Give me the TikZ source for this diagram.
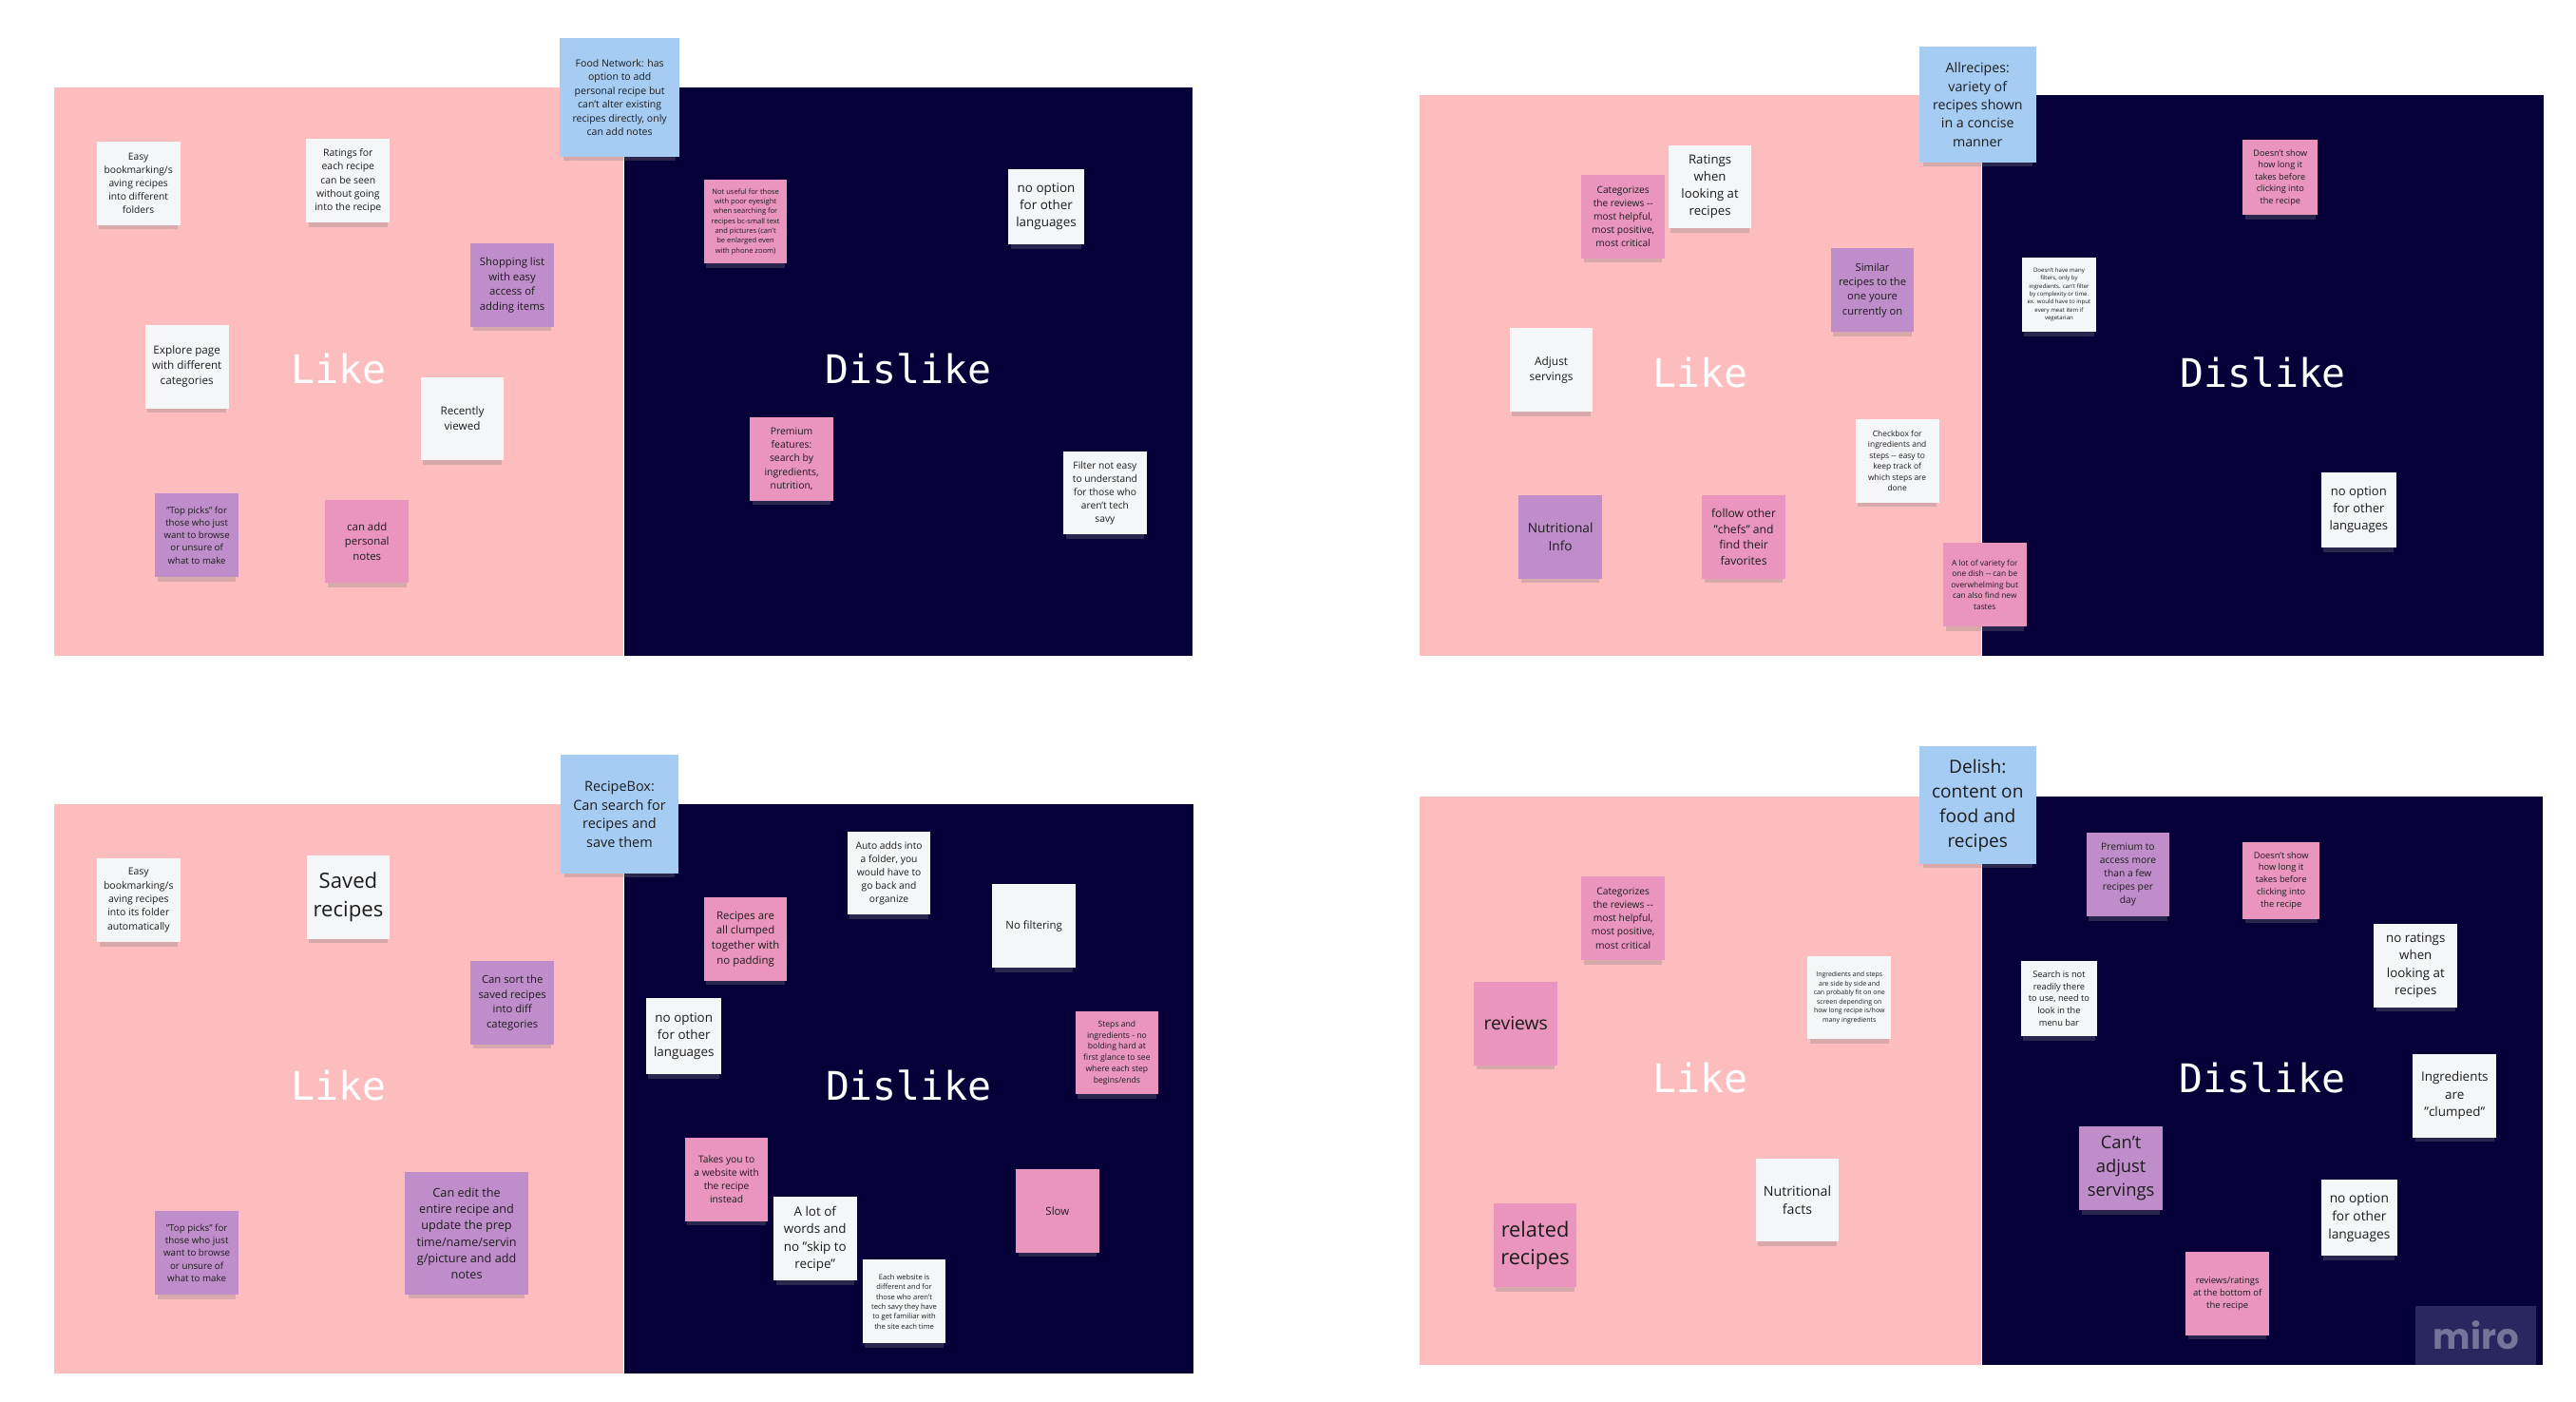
\documentclass[tikz,border=0pt]{standalone}
\usepackage{fontspec}
\setmainfont{Open Sans}
\newfontfamily\boardfont{DejaVu Sans Mono}
\newfontfamily\mirofont{Poppins}
\usepackage{tikz}
\usetikzlibrary{positioning,shadows}

\definecolor{likebg}{HTML}{FDBCBE}
\definecolor{dislikebg}{HTML}{050038}
\definecolor{notewhite}{HTML}{F5F6F8}
\definecolor{notepink}{HTML}{E995BE}
\definecolor{notepurple}{HTML}{C08DCB}
\definecolor{noteblue}{HTML}{A6CCF4}
\definecolor{notetext}{HTML}{1C1C1C}
\definecolor{mirobg}{HTML}{2A2760}
\definecolor{mirotext}{HTML}{77749A}

\newcommand{\dpx}{0.017378cm}
\newcommand{\fsz}[1]{\fontsize{#1}{\fpeval{1.37*#1}}\selectfont}

\tikzset{
  wh/.style 2 args={minimum width=#1*\dpx, minimum height=#2*\dpx},
  sz/.style={wh={#1}{#1}},
  fs/.style={font=\fsz{#1}},
  side/.style={inner sep=0pt, text=white, text depth=2pt, font=\boardfont\fontsize{11.8}{14}\selectfont},
  likeside/.style={side, fill=likebg},
  dislikeside/.style={side, fill=dislikebg},
  note/.style={inner sep=0pt, align=center, text=notetext, sz=50.5,
    drop shadow={shadow xshift=0pt, shadow yshift=-2.2pt, shadow scale=.94, opacity=.3}},
  whitenote/.style={note, fill=notewhite},
  pinknote/.style={note, fill=notepink},
  purplenote/.style={note, fill=notepurple},
  sitenote/.style={note, fill=noteblue, sz=71.5},
  mirobox/.style={inner sep=0pt, fill=mirobg, text=mirotext, wh={72.9}{35.4},
    font=\mirofont\bfseries\fontsize{10.6}{12}\selectfont}
}

\begin{document}
\begin{tikzpicture}[x=0.017378cm,y=-0.017378cm]

  \fill[white] (0,0) rectangle (1560.1,848.8);
  \useasboundingbox (0,0) rectangle (1560.1,848.8);

  % Boards

  \node[likeside,wh={344.6}{344.1},anchor=north west] (fn_like) at (32.3,52.6) {Like};
  \node[dislikeside,wh={344.2}{344.1},right=0pt of fn_like] (fn_dis) {Dislike};

  \node[likeside,wh={340}{339.7},anchor=north west] (ar_like) at (859.3,57) {Like};
  \node[dislikeside,wh={340}{339.7},right=0pt of ar_like] (ar_dis) {Dislike};

  \node[likeside,wh={344.8}{344.8},anchor=north west] (rb_like) at (32.2,486.4) {Like};
  \node[dislikeside,wh={344.3}{344.8},right=0pt of rb_like] (rb_dis) {Dislike};

  \node[likeside,wh={340}{344.6},anchor=north west] (de_like) at (859.3,481.6) {Like};
  \node[dislikeside,wh={339.5}{344.6},right=0pt of de_like] (de_dis) {Dislike};

  % Food Network

  \node[whitenote,fs=2.92] (fn_easy) at (83.8,111) {Easy\\bookmarking/s\\aving recipes\\into different\\folders};
  \node[whitenote,fs=2.96] (fn_rate) at (210.8,109.5) {Ratings for\\each recipe\\can be seen\\without going\\into the recipe};
  \node[purplenote,fs=3.23] (fn_shop) at (310.2,172.6) {Shopping list\\with easy\\access of\\adding items};
  \node[whitenote,fs=3.32] (fn_explore) at (113.2,222) {Explore page\\with different\\categories};
  \node[whitenote,fs=3.32] (fn_recent) at (280,253.5) {Recently\\viewed};
  \node[purplenote,fs=2.74] (fn_top) at (119.2,324) {"Top picks" for\\those who just\\want to browse\\or unsure of\\what to make};
  \node[pinknote,fs=3.25] (fn_notes) at (222.3,327.7) {can add\\personal\\notes};

  \node[pinknote,fs=2.15] (fn_eyes) at (451.5,134.2) {Not useful for those\\with poor eyesight\\when searching for\\recipes bc-small text\\and pictures (can't\\be enlarged even\\with phone zoom)};
  \node[whitenote,sz=45.7,fs=3.82] (fn_lang) at (633.6,125) {no option\\for other\\languages};
  \node[pinknote,fs=2.96] (fn_premium) at (479.4,277.8) {Premium\\features:\\search by\\ingredients,\\nutrition,};
  \node[whitenote,fs=2.91] (fn_filter) at (669.2,298.4) {Filter not easy\\to understand\\for those who\\aren't tech\\savy};

  \node[sitenote,wh={72.2}{72},fs=2.99] (fn_site) at (375.3,59) {Food Network: has\\option to add\\personal recipe but\\can't alter existing\\recipes directly, only\\can add notes};

  % Allrecipes

  \node[pinknote,fs=2.9] (ar_cat) at (983,131) {Categorizes\\the reviews -{}-\\most helpful,\\most positive,\\most critical};
  \node[whitenote,fs=3.75] (ar_rate) at (1035.6,113) {Ratings\\when\\looking at\\recipes};
  \node[purplenote,fs=3.19] (ar_similar) at (1134,175.6) {Similar\\recipes to the\\one youre\\currently on};
  \node[whitenote,fs=3.39] (ar_adjust) at (939.5,224) {Adjust\\servings};
  \node[whitenote,fs=2.4] (ar_check) at (1149,279) {Checkbox for\\ingredients and\\steps -{}- easy to\\keep track of\\which steps are\\done};
  \node[purplenote,fs=3.9] (ar_nutri) at (945,325) {Nutritional\\Info};
  \node[pinknote,fs=3.44] (ar_chefs) at (1056,325) {follow other\\"chefs" and\\find their\\favorites};
  \node[pinknote,fs=2.38] (ar_variety) at (1202,354) {A lot of variety for\\one dish -{}- can be\\overwhelming but\\can also find new\\tastes};

  \node[pinknote,sz=45.3,fs=2.6] (ar_time) at (1381,107.5) {Doesn't show\\how long it\\takes before\\clicking into\\the recipe};
  \node[whitenote,sz=45.3,fs=1.73] (ar_filters) at (1247,178.4) {Doesn't have many\\filters, only by\\ingredients. can't filter\\by complexity or time.\\ex. would have to input\\every meat item if\\vegetarian};
  \node[whitenote,sz=45.3,fs=3.71] (ar_lang) at (1428.5,308.7) {no option\\for other\\languages};

  \node[sitenote,wh={70.6}{70.4},fs=4.04] (ar_site) at (1197.7,63.4) {Allrecipes:\\variety of\\recipes shown\\in a concise\\manner};

  % RecipeBox

  \node[whitenote,fs=2.98] (rb_easy) at (83.9,545) {Easy\\bookmarking/s\\aving recipes\\into its folder\\automatically};
  \node[whitenote,fs=6.3] (rb_saved) at (210.9,543.2) {Saved\\recipes};
  \node[purplenote,fs=3.22] (rb_sort) at (310.3,607) {Can sort the\\saved recipes\\into diff\\categories};
  \node[purplenote,fs=2.78] (rb_top) at (119.2,758.6) {"Top picks" for\\those who just\\want to browse\\or unsure of\\what to make};
  \node[purplenote,sz=74.5,fs=3.6] (rb_edit) at (282.6,746.8) {Can edit the\\entire recipe and\\update the prep\\time/name/servin\\g/picture and add\\notes};

  \node[pinknote,fs=3.25] (rb_clump) at (451.5,568.5) {Recipes are\\all clumped\\together with\\no padding};
  \node[whitenote,fs=2.93] (rb_auto) at (538.4,528.6) {Auto adds into\\a folder, you\\would have to\\go back and\\organize};
  \node[whitenote,fs=3.25] (rb_nofilter) at (626.2,560.6) {No filtering};
  \node[whitenote,sz=45.7,fs=3.82] (rb_lang) at (414.2,627.3) {no option\\for other\\languages};
  \node[pinknote,fs=2.45] (rb_steps) at (676.4,637.3) {Steps and\\ingredients - no\\bolding hard at\\first glance to see\\where each step\\begins/ends};
  \node[pinknote,fs=2.92] (rb_takes) at (440,714) {Takes you to\\a website with\\the recipe\\instead};
  \node[whitenote,fs=3.82] (rb_words) at (493.6,750) {A lot of\\words and\\no "skip to\\recipe"};
  \node[pinknote,fs=3.25] (rb_slow) at (640.4,733) {Slow};
  \node[whitenote,fs=2.16] (rb_each) at (547.6,788) {Each website is\\different and for\\those who aren't\\tech savy they have\\to get familiar with\\the site each time};

  \node[sitenote,wh={71.2}{72},fs=4.11] (rb_site) at (375.2,493) {RecipeBox:\\Can search for\\recipes and\\save them};

  % Delish

  \node[pinknote,fs=2.92] (de_cat) at (983,556) {Categorizes\\the reviews -{}-\\most helpful,\\most positive,\\most critical};
  \node[pinknote,fs=5.5] (de_reviews) at (918,619.7) {reviews};
  \node[whitenote,fs=1.98] (de_steps) at (1120,604) {Ingredients and steps\\are side by side and\\can probably fit on one\\screen depending on\\how long recipe is/how\\many ingredients};
  \node[whitenote,fs=4.04] (de_nutri) at (1088.5,726.5) {Nutritional\\facts};
  \node[pinknote,fs=6.2] (de_related) at (929.7,754) {related\\recipes};

  \node[purplenote,fs=2.92] (de_premium) at (1288.7,529.6) {Premium to\\access more\\than a few\\recipes per\\day};
  \node[pinknote,sz=46.5,fs=2.65] (de_time) at (1381.5,533) {Doesn't show\\how long it\\takes before\\clicking into\\the recipe};
  \node[whitenote,fs=3.79] (de_rate) at (1463,584.5) {no ratings\\when\\looking at\\recipes};
  \node[whitenote,sz=46,fs=2.63] (de_search) at (1247,604.5) {Search is not\\readily there\\to use, need to\\look in the\\menu bar};
  \node[whitenote,fs=3.82] (de_clump) at (1486.6,663.4) {Ingredients\\are\\"clumped"};
  \node[purplenote,fs=5.23] (de_adjust) at (1284.5,707.3) {Can't\\adjust\\servings};
  \node[whitenote,sz=46,fs=3.92] (de_lang) at (1428.8,737) {no option\\for other\\languages};
  \node[pinknote,fs=2.7] (de_bottom) at (1349,783) {reviews/ratings\\at the bottom of\\the recipe};

  \node[sitenote,wh={70.6}{71.4},fs=5.43] (de_site) at (1197.7,487.6) {Delish:\\content on\\food and\\recipes};

  \node[mirobox] (miro) at (1499.5,808.5) {miro};

\end{tikzpicture}
\end{document}
